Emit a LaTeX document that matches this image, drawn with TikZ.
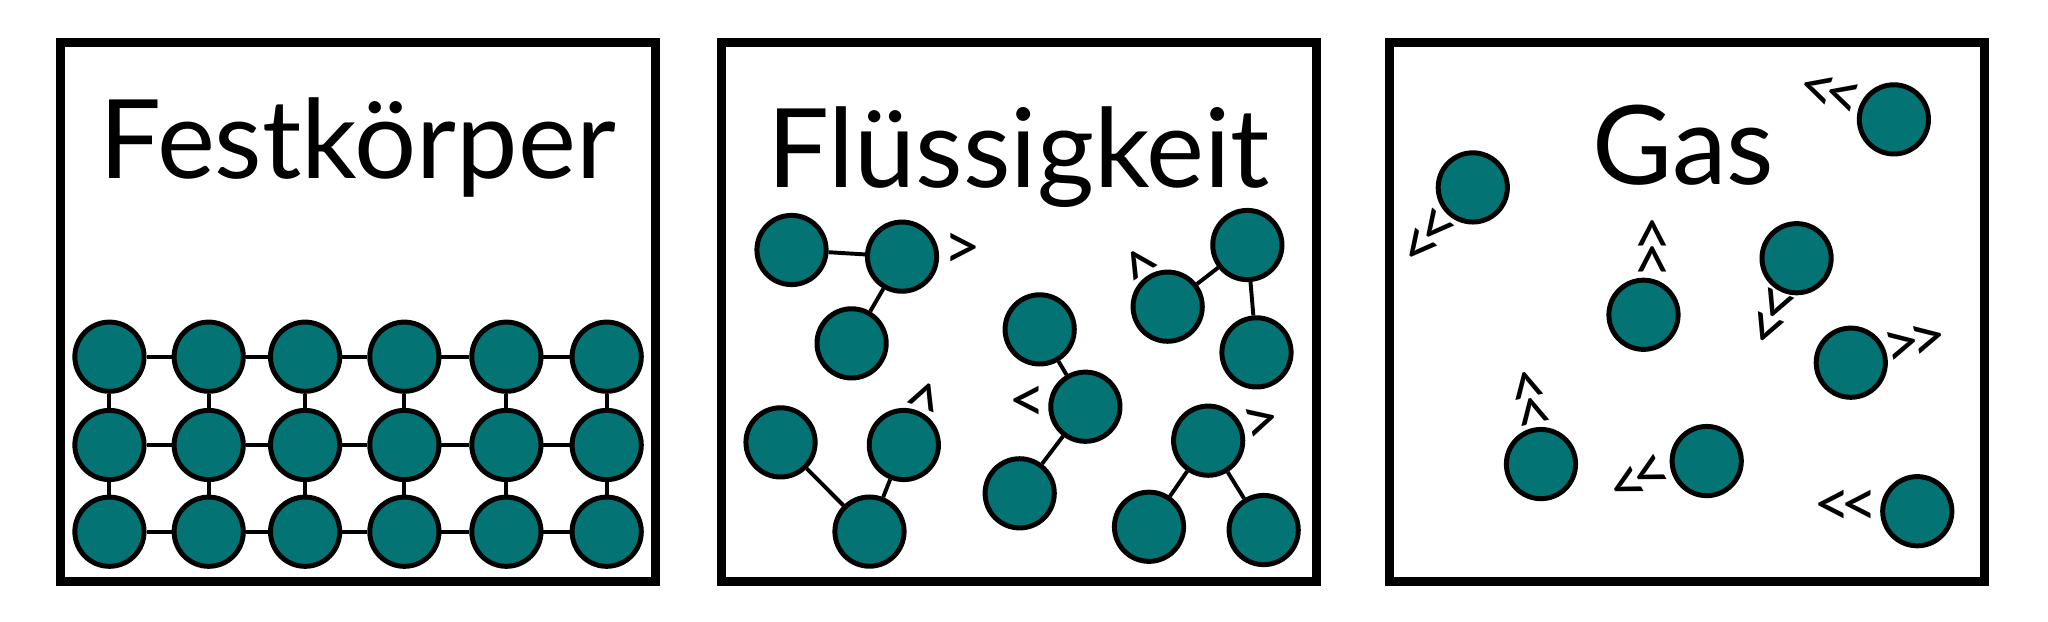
\documentclass[tikz,border=0pt]{standalone}
\usepackage{fontspec}
\setmainfont{Lato}
\definecolor{molecule}{RGB}{3,115,115}
\newcommand{\titlesize}{\fontsize{84}{90}\selectfont}
\newcommand{\chevsize}{\fontsize{50}{55}\selectfont}
\newcommand{\twoleft}{<\kern-9pt<}
\newcommand{\tworight}{>\kern-9pt>}

\begin{document}
\begin{tikzpicture}[x=1pt, y=-1pt, every node/.style={inner sep=0pt}]
\useasboundingbox (0,0) rectangle (1568,475.5);

\tikzset{
  particle/.style={circle, draw=black, line width=3.8pt, fill=molecule, minimum size=53pt},
  bond/.style={line width=3pt},
  container/.style={line width=6.9pt},
  motion/.style={font=\chevsize, anchor=center},
  heading/.style={font=\titlesize, anchor=base}
}

% the three containers
\draw[container] (46.3,32.9) rectangle (501.8,445.2);
\draw[container] (552.2,32.9) rectangle (1007.7,445.2);
\draw[container] (1063.5,32.9) rectangle (1519,445.2);

\node[heading] (T1) at (273.9,136.5) {Festkörper};
\node[heading] (T2) at (780,143.4) {Flüssigkeit};
\node[heading] (T3) at (1288.6,141.6) {Gas};

% solid: fixed lattice
\foreach \x [count=\i] in {83.8,159.8,233.6,309.6,387.7,464.5}
  \foreach \y [count=\j] in {273.1,340.7,407.1}
    \node[particle] (S\i\j) at (\x,\y) {};
\foreach \i/\k in {1/2,2/3,3/4,4/5,5/6}
  \foreach \j in {1,2,3}
    \draw[bond] (S\i\j) -- (S\k\j);
\foreach \i in {1,...,6}
  \foreach \j/\l in {1/2,2/3}
    \draw[bond] (S\i\j) -- (S\i\l);

% liquid: small clusters
\node[particle] (A1) at (606,191.4) {};
\node[particle] (A2) at (690.6,196.5) {};
\node[particle] (A3) at (652,262.9) {};

\node[particle] (B1) at (955,187.6) {};
\node[particle] (B2) at (894,234.8) {};
\node[particle] (B3) at (962,269.8) {};

\node[particle] (C1) at (796,252.2) {};
\node[particle] (C2) at (831,311.4) {};
\node[particle] (C3) at (780.7,377.7) {};

\node[particle] (D1) at (597.6,338.7) {};
\node[particle] (D2) at (692,340.7) {};
\node[particle] (D3) at (665.7,407) {};

\node[particle] (E1) at (925,337.4) {};
\node[particle] (E2) at (879.7,403.3) {};
\node[particle] (E3) at (967.5,405.8) {};

\draw[bond] (A1) -- (A2);
\draw[bond] (A2) -- (A3);
\draw[bond] (B1) -- (B2);
\draw[bond] (B1) -- (B3);
\draw[bond] (C1) -- (C2);
\draw[bond] (C2) -- (C3);
\draw[bond] (D1) -- (D3);
\draw[bond] (D2) -- (D3);
\draw[bond] (E1) -- (E2);
\draw[bond] (E1) -- (E3);

\node[motion] (mA) at (736.6,192.7) {>};
\node[motion, rotate=123] (mB) at (875,200.4) {>};
\node[motion] (mC) at (787,309.3) {<};
\node[motion, rotate=69] (mD) at (710.8,305) {>};
\node[motion, rotate=15] (mE) at (966,325) {>};

% gas: free particles
\node[particle] (G1) at (1450,91.4) {};
\node[particle] (G2) at (1127.6,143.5) {};
\node[particle] (G3) at (1258.3,241) {};
\node[particle] (G4) at (1375.5,197.7) {};
\node[particle] (G5) at (1417,277.7) {};
\node[particle] (G6) at (1179.8,355.3) {};
\node[particle] (G7) at (1306.7,353) {};
\node[particle] (G8) at (1467.9,391.4) {};

\node[motion, rotate=-17] (m1) at (1400.5,73) {\twoleft};
\node[motion, rotate=51] (m2) at (1095.6,182.7) {\twoleft};
\node[motion, rotate=-90] (m3) at (1262,189.5) {\twoleft};
\node[motion, rotate=68] (m4) at (1359.3,243) {\twoleft};
\node[motion, rotate=13] (m5) at (1466.7,263.5) {\tworight};
\node[motion, rotate=-77] (m6) at (1168.6,306) {\twoleft};
\node[motion, rotate=27.7] (m7) at (1255.9,369) {\twoleft};
\node[motion] (m8) at (1413.2,389.5) {\twoleft};

\end{tikzpicture}
\end{document}
